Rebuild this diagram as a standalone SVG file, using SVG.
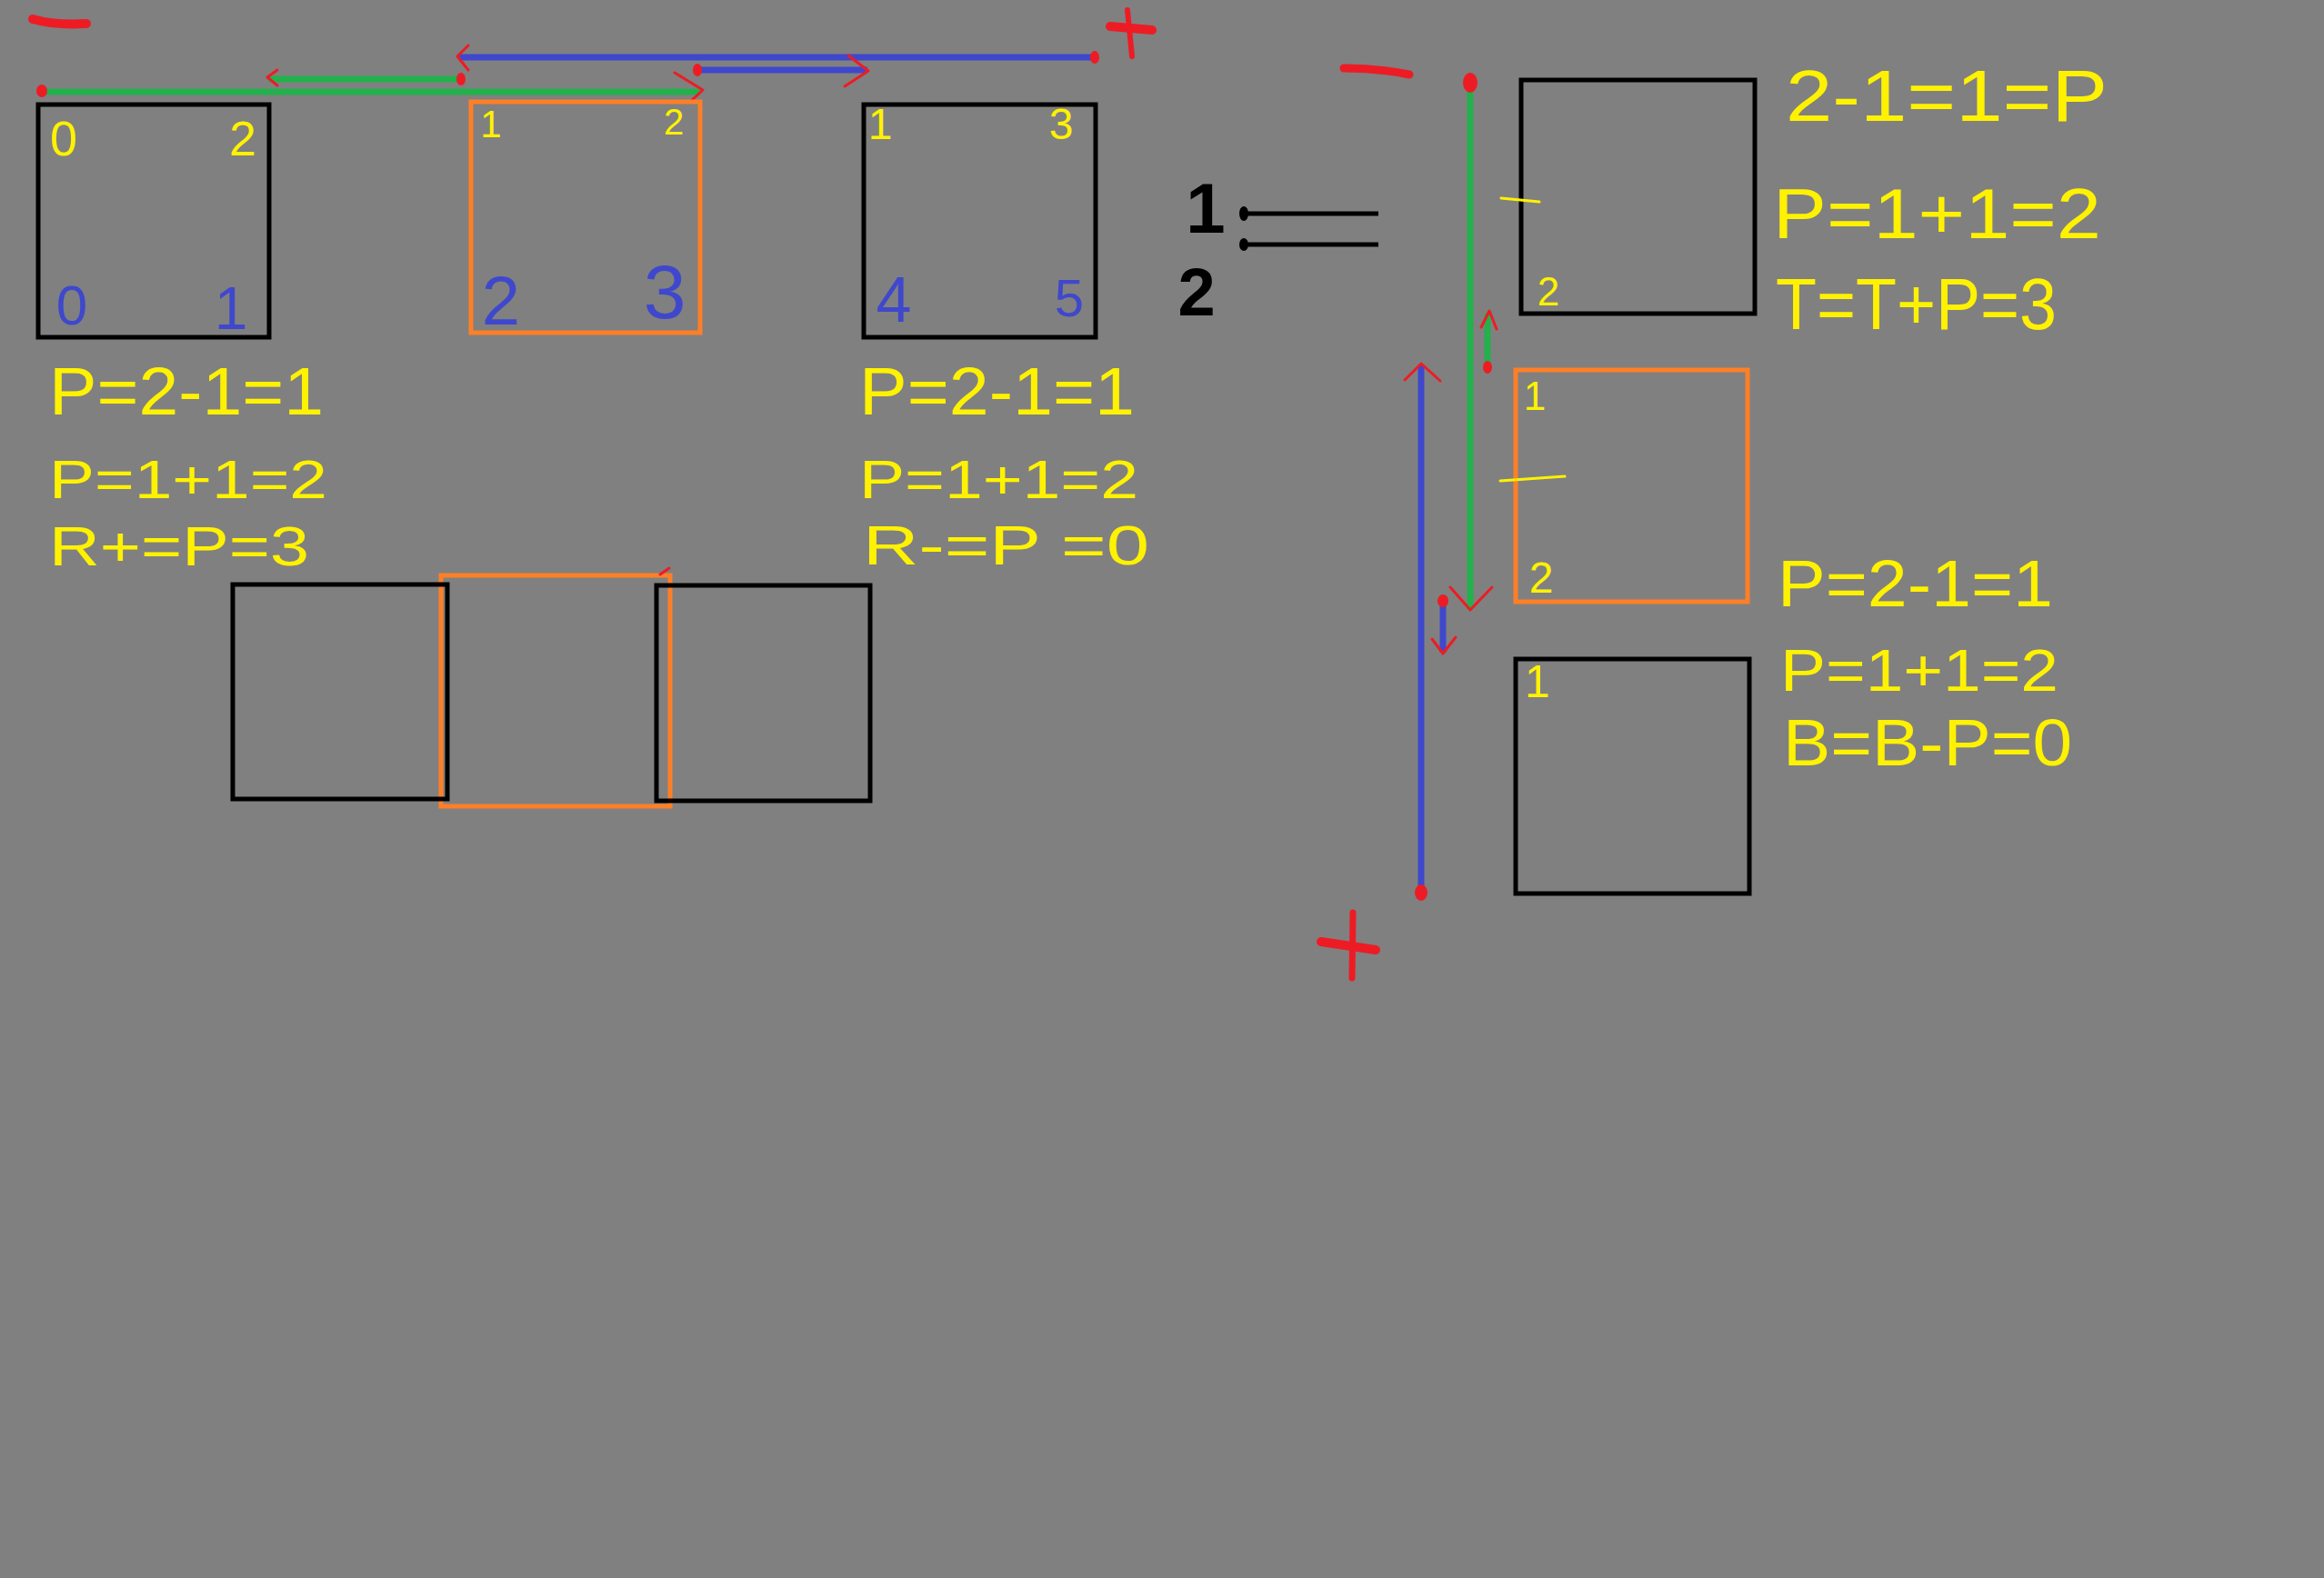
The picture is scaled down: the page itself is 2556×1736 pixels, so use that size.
<svg xmlns="http://www.w3.org/2000/svg" width="2556" height="1736" viewBox="0 0 2556 1736">
<style>
.bg{fill:#808080}
.blk{fill:none;stroke:#000;stroke-width:5}
.org{fill:none;stroke:#ff7f27;stroke-width:5}
.g{stroke:#22b14c;stroke-width:7;fill:none}
.b{stroke:#3f48cc;stroke-width:7;fill:none}
.head{stroke:#ed1c24;stroke-width:3;fill:none;stroke-linejoin:round;stroke-linecap:round}
.dot{fill:#ed1c24}
.sign{stroke:#ed1c24;fill:none;stroke-linecap:round}
.y{fill:#fff200;font-family:"Liberation Sans",Arial,sans-serif}
.bl{fill:#3f48cc;font-family:"Liberation Sans",Arial,sans-serif}
.k{fill:#000;font-family:"Liberation Sans",Arial,sans-serif;font-weight:bold}
.tick{stroke:#fff200;stroke-width:3;fill:none;stroke-linecap:round}
</style>
<rect class="bg" x="0" y="0" width="2556" height="1736"/>

<!-- signs -->
<g id="signs">
<path class="sign" stroke-width="10" d="M36,21 Q60,28 95,26"/>
<path class="sign" stroke-width="6" d="M1240,11 L1245,62"/>
<path class="sign" stroke-width="10" d="M1221,29 L1267,33"/>
<path class="sign" stroke-width="9" d="M1478,75 Q1515,75 1550,82"/>
<path class="sign" stroke-width="7" d="M1488,1004 L1487,1076"/>
<path class="sign" stroke-width="10" d="M1453,1036 L1513,1045"/>
</g>

<!-- connectors -->
<g id="connectors">
<!-- top horizontal -->
<line class="b" x1="505" y1="63" x2="1204" y2="63"/>
<ellipse class="dot" cx="1204" cy="63" rx="5" ry="7"/>
<polyline class="head" points="515,50 503,62 515,77"/>
<line class="b" x1="766" y1="77" x2="954" y2="77"/>
<ellipse class="dot" cx="767" cy="77" rx="5" ry="7"/>
<polyline class="head" points="933,61 955,78 929,95"/>
<line class="g" x1="295" y1="87" x2="507" y2="87"/>
<ellipse class="dot" cx="507" cy="87" rx="5" ry="7"/>
<polyline class="head" points="305,77 294,85 305,94"/>
<line class="g" x1="46" y1="101" x2="770" y2="101"/>
<ellipse class="dot" cx="46" cy="100" rx="6" ry="7"/>
<polyline class="head" points="742,80 773,99 759,112"/>
<!-- right vertical -->
<line class="g" x1="1617" y1="90" x2="1617" y2="670"/>
<ellipse class="dot" cx="1617" cy="91" rx="8" ry="11"/>
<polyline class="head" points="1595,646 1617,671 1641,646"/>
<line class="g" x1="1636" y1="344" x2="1636" y2="405"/>
<ellipse class="dot" cx="1636" cy="404" rx="5" ry="7"/>
<polyline class="head" points="1629,360 1638,342 1646,362"/>
<line class="b" x1="1563" y1="402" x2="1563" y2="983"/>
<ellipse class="dot" cx="1563" cy="982" rx="7" ry="9"/>
<polyline class="head" points="1545,418 1563,400 1584,419"/>
<line class="b" x1="1587" y1="660" x2="1587" y2="718"/>
<ellipse class="dot" cx="1587" cy="661" rx="6" ry="7"/>
<polyline class="head" points="1575,703 1587,719 1601,701"/>
<!-- black pins -->
<line stroke="#000" stroke-width="5" x1="1368" y1="235" x2="1516" y2="235"/>
<ellipse cx="1368" cy="235" rx="5" ry="8" fill="#000"/>
<line stroke="#000" stroke-width="5" x1="1368" y1="269" x2="1516" y2="269"/>
<ellipse cx="1368" cy="269" rx="5" ry="7" fill="#000"/>
</g>

<!-- top row nodes -->
<g id="box-a">
<rect class="blk" x="42" y="115" width="254" height="256"/>
<text class="y" x="70" y="171" font-size="54" text-anchor="middle">0</text>
<text class="y" x="267" y="171" font-size="54" text-anchor="middle">2</text>
<text class="bl" x="79" y="357" font-size="62" text-anchor="middle">0</text>
<text class="bl" x="254" y="362" font-size="66" text-anchor="middle">1</text>
</g>
<g id="box-b">
<rect class="org" x="518" y="112" width="252" height="254"/>
<text class="y" x="540" y="151" font-size="42" text-anchor="middle">1</text>
<text class="y" x="741" y="148" font-size="40" text-anchor="middle">2</text>
<text class="bl" x="551" y="357" font-size="76" text-anchor="middle">2</text>
<text class="bl" x="731" y="350" font-size="84" text-anchor="middle">3</text>
</g>
<g id="box-c">
<rect class="blk" x="950" y="115" width="255" height="256"/>
<text class="y" x="968" y="153" font-size="48" text-anchor="middle">1</text>
<text class="y" x="1167" y="153" font-size="48" text-anchor="middle">3</text>
<text class="bl" x="983" y="354" font-size="70" text-anchor="middle">4</text>
<text class="bl" x="1176" y="348" font-size="58" text-anchor="middle">5</text>
</g>

<!-- formulas -->
<g id="formulas-left">
<text class="y" x="54" y="456" font-size="74" textLength="302" lengthAdjust="spacingAndGlyphs">P=2-1=1</text>
<text class="y" x="54" y="548" font-size="60" textLength="306" lengthAdjust="spacingAndGlyphs">P=1+1=2</text>
<text class="y" x="54" y="622" font-size="62" textLength="286" lengthAdjust="spacingAndGlyphs">R+=P=3</text>
</g>
<g id="formulas-mid">
<text class="y" x="945" y="456" font-size="74" textLength="303" lengthAdjust="spacingAndGlyphs">P=2-1=1</text>
<text class="y" x="945" y="548" font-size="60" textLength="307" lengthAdjust="spacingAndGlyphs">P=1+1=2</text>
<text class="y" x="949" y="621" font-size="62" textLength="315" lengthAdjust="spacingAndGlyphs">R-=P =0</text>
</g>

<!-- bottom row nodes -->
<g id="box-d">
<rect class="org" x="485" y="633" width="252" height="254"/>
<path class="head" d="M726,632 L736,625"/>
</g>
<g id="box-e">
<rect class="blk" x="256" y="643" width="236" height="236"/>
</g>
<g id="box-f">
<rect class="blk" x="722" y="644" width="235" height="237"/>
</g>

<!-- right column -->
<g id="labels-12">
<text class="k" x="1326" y="256" font-size="78" text-anchor="middle">1</text>
<text class="k" x="1316" y="347" font-size="74" text-anchor="middle">2</text>
</g>
<g id="box-g">
<rect class="blk" x="1673" y="88" width="257" height="257"/>
<path class="tick" d="M1651,218 L1693,222"/>
<text class="y" x="1703" y="336" font-size="44" text-anchor="middle">2</text>
</g>
<g id="box-h">
<rect class="org" x="1667" y="407" width="255" height="255"/>
<text class="y" x="1688" y="451" font-size="44" text-anchor="middle">1</text>
<path class="tick" d="M1650,529 L1721,524"/>
<text class="y" x="1695" y="652" font-size="48" text-anchor="middle">2</text>
</g>
<g id="box-i">
<rect class="blk" x="1667" y="725" width="257" height="258"/>
<text class="y" x="1691" y="767" font-size="50" text-anchor="middle">1</text>
</g>
<g id="formulas-right-top">
<text class="y" x="1964" y="133" font-size="80" textLength="354" lengthAdjust="spacingAndGlyphs">2-1=1=P</text>
<text class="y" x="1950" y="262" font-size="78" textLength="361" lengthAdjust="spacingAndGlyphs">P=1+1=2</text>
<text class="y" x="1953" y="362" font-size="80" textLength="309" lengthAdjust="spacingAndGlyphs">T=T+P=3</text>
</g>
<g id="formulas-right-bottom">
<text class="y" x="1955" y="667" font-size="72" textLength="303" lengthAdjust="spacingAndGlyphs">P=2-1=1</text>
<text class="y" x="1958" y="760" font-size="64" textLength="306" lengthAdjust="spacingAndGlyphs">P=1+1=2</text>
<text class="y" x="1961" y="842" font-size="72" textLength="318" lengthAdjust="spacingAndGlyphs">B=B-P=0</text>
</g>
</svg>
